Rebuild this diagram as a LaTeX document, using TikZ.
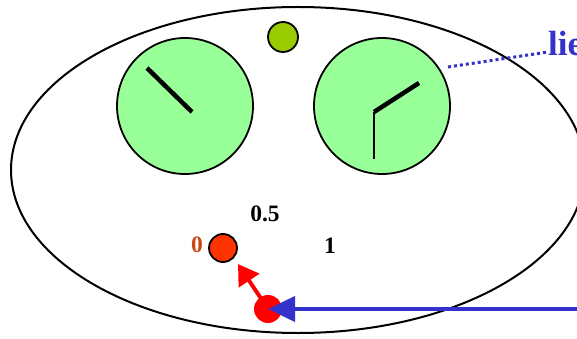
\documentclass[tikz,border=0pt]{standalone}
\usepackage{fontspec}
\setmainfont{Liberation Serif}
\usetikzlibrary{arrows.meta}
\definecolor{dialgreen}{HTML}{99FF99}
\definecolor{knob}{HTML}{99CC00}
\definecolor{pblue}{HTML}{3333CC}
\definecolor{dotred}{HTML}{FF3300}
\definecolor{lblorange}{HTML}{CC4411}
\begin{document}
\begin{tikzpicture}[x=1pt,y=-1pt,
  dial/.style={circle,draw=black,line width=1.8pt,fill=dialgreen,minimum size=136pt,inner sep=0pt},
  lbl/.style={font=\bfseries\fontsize{23.5}{23.5}\selectfont,inner sep=0pt}]
\useasboundingbox (0,0) rectangle (577,339);
\draw[line width=2pt] (298,170) ellipse [x radius=287, y radius=163];
\node[dial] (d1) at (185,106) {};
\node[dial] (d2) at (382,106) {};
\node[circle,draw=black,line width=1.8pt,fill=knob,minimum size=30pt,inner sep=0pt] (k) at (283,37) {};
% hands
\coordinate (h1a) at (147,68);
\coordinate (h1b) at (192,112);
\draw[line width=4.5pt] (h1a) -- (h1b);
\coordinate (h2c) at (374,112);
\coordinate (h2a) at (419,83);
\coordinate (h2b) at (374,159);
\draw[line width=4.5pt] (h2c) -- (h2a);
\draw[line width=2.4pt] (h2c) -- (h2b);
% label
\node[anchor=west,text=pblue,font=\bfseries\fontsize{35}{35}\selectfont,inner sep=0pt] (lie) at (548,44) {lie};
\coordinate (dotstart) at (448,67);
\draw[pblue,line width=3pt,dash pattern=on 3pt off 3pt] (dotstart) -- (lie.west |- 0,52);
% numbers
\node[lbl] (n05) at (265,214) {0.5};
\node[lbl] (n1) at (330,246) {1};
\node[lbl,text=lblorange] (n0) at (197,245) {0};
\node[circle,draw=black,line width=1.8pt,fill=dotred,minimum size=28pt,inner sep=0pt] (c0) at (223,248) {};
\node[circle,fill=red,minimum size=28pt,inner sep=0pt] (rd) at (268,309) {};
\coordinate (rtip) at (238,264);
\draw[red,line width=4pt,-{Triangle[length=20pt,width=24pt]}] (rd.center) -- (rtip);
\coordinate (bstart) at (577,309);
\draw[pblue,line width=4pt,-{Triangle[length=27pt,width=25pt]}] (bstart) -- (rd.center);
\end{tikzpicture}
\end{document}
